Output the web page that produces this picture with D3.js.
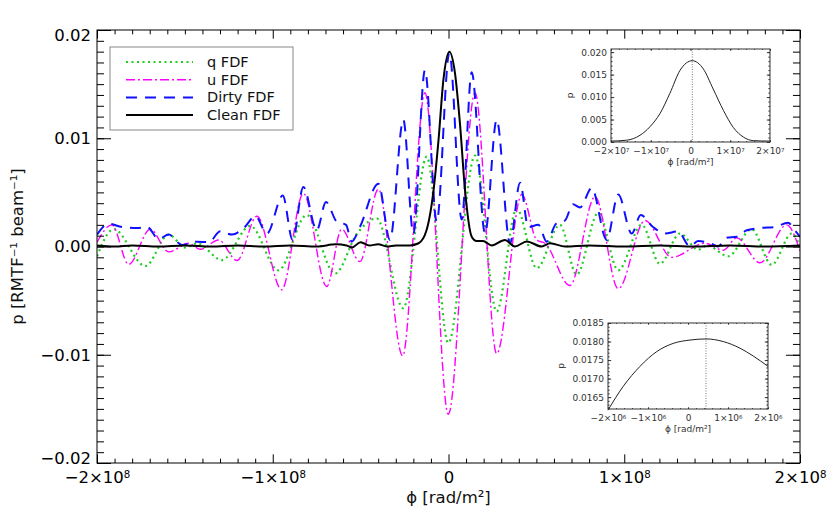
<!DOCTYPE html>
<html>
<head>
<meta charset="utf-8">
<script src="https://cdn.jsdelivr.net/npm/d3@7"></script>
<style>
  body { margin: 0; background: #fff; }
  text { font-family: 'DejaVu Sans', sans-serif; fill: #111; }
</style>
</head>
<body>
<div id="chart"></div>
<script>
// phi in units of 1e6 rad/m^2, p in RMTF^-1 beam^-1
const qFdf = [
  [-200, -0.0009], [-190.5, 0.0016], [-172.5, -0.0018], [-159.2, 0.0011], [-149.8, -0.0001],
  [-143.1, 0.0003], [-128.9, -0.00125], [-112.8, 0.0019], [-96.8, -0.0022], [-80.7, 0.0029],
  [-64.6, -0.0025], [-52, 0.0012], [-40.9, 0.0026], [-25.7, -0.0057], [-12.4, 0.0083],
  [-0.1, -0.0089], [15.1, 0.0084], [27.4, -0.006], [38.8, 0.0035], [50.2, -0.002],
  [63.4, 0.002], [72.9, -0.0026], [85.2, 0.0031], [96.6, -0.0022], [109.9, 0.002],
  [120.3, -0.0016], [131.7, 0.0012], [142.1, -0.0003], [147, 0.0001], [159.2, -0.0009],
  [172.5, 0.0016], [183.9, -0.0017], [195.3, 0.0012], [200, 0.0]
];

const uFdf = [
  [-200, 0.0004], [-191.5, 0.002], [-182, -0.00165], [-169.7, 0.0016], [-159.2, -0.0005],
  [-147.8, 0.0003], [-141.2, -0.00026], [-130.8, 0.0006], [-120.3, -0.0013], [-109, 0.0028],
  [-94.9, -0.004], [-82.6, 0.0049], [-69.3, -0.0037], [-60.8, 0.0016], [-50.4, -0.0014],
  [-39.9, 0.0053], [-26.1, -0.0101], [-13.4, 0.0142], [-0.1, -0.0155], [15.1, 0.0142],
  [27.4, -0.0099], [41.7, 0.0048], [50.2, 0.0006], [54.9, 0.0003], [69.1, -0.0036],
  [83.4, 0.0046], [96.6, -0.0039], [111.8, 0.0024], [127, -0.001], [145.9, 0.0003],
  [156.4, -0.00035], [164, 0.0008], [177.2, -0.0015], [192.4, 0.002], [200, -0.0004]
];

const dirtyFdf = [
  [-200, 0.0011], [-193.3, 0.0021], [-185.8, 0.0018], [-177.2, 0.0017], [-171.5, 0.0018],
  [-164.9, 0.0007], [-159.2, 0.0011], [-151.6, 0.00015], [-143.1, 0.00045], [-136.4, 0.0004],
  [-129.8, 0.0014], [-123.2, 0.0011], [-116.5, 0.0017], [-109.9, 0.0028], [-103.3, 0.0012],
  [-94.3, 0.0047], [-88.7, 0.0006], [-82.6, 0.0055], [-75, 0.0015], [-69.7, 0.0041],
  [-63.6, 0.0023], [-58.3, 0.002], [-55.1, 0.00045], [-50.4, 0.0018], [-39.9, 0.0058],
  [-33.3, 0.0006], [-25.7, 0.0117], [-20, 0.0012], [-13.4, 0.0163], [-6.7, 0.0023],
  [0.5, 0.0179], [7.5, 0.0025], [13.2, 0.0161], [20.8, 0.0012], [27.4, 0.0117],
  [35, 0.0003], [40.7, 0.0059], [45.4, 0.0018], [51.1, 0.002], [55.9, 0.00045],
  [61.2, 0.0021], [66.3, 0.0024], [70.8, 0.0039], [74.8, 0.0036], [81.5, 0.0054],
  [90, 0.0006], [96.6, 0.0048], [104.2, 0.0012], [109.4, 0.0029], [116.4, 0.0018],
  [123.2, 0.0012], [130.6, 0.0014], [137.4, 0.0], [142, 0.0005], [150.5, 0.0002],
  [153.3, 0.0], [158.3, 0.0008], [164, 0.0009], [169.7, 0.0015], [177.2, 0.0017],
  [185.8, 0.0018], [193.2, 0.0022], [197, 0.0015], [200, 0.0009]
];

const cleanFdf = [
  [-200, 0.0001], [-190, 0.0], [-180, 0.0001], [-165, 0.0], [-150, 0.0001], [-135, 0.0],
  [-120, 0.0001], [-105, 0.0], [-90, 0.0001], [-75, 0.0], [-64, 0.0002], [-58, 0.0001],
  [-55, -0.0001], [-50, 0.0004], [-45, 0.0001], [-40, 0.0002], [-35, 0.0], [-30, 0.0001],
  [-22, 0.0001], [-17, 0.0003], [-12.5, 0.0015], [-8.5, 0.0052], [-5.7, 0.0098],
  [-2.9, 0.0154], [0.5, 0.018], [3.7, 0.016], [6.5, 0.0114], [9.4, 0.0052], [13.2, 0.0009],
  [16, 0.0005], [19.6, 0.0005], [24.6, 0.0001], [32.1, 0.0006], [37.8, 0.0], [44.5, 0.00046],
  [53, 0.0], [57.8, 0.0003], [66.3, 0.0], [80, 0.0001], [100, 0.0], [120, 0.0001],
  [140, 0.0], [160, 0.0001], [180, 0.0], [200, 0.0001]
];

// insets: clean peak, phi in 1e6 rad/m^2
const insetPeak = [
  [-20, 0.0002], [-16.05, 0.0004], [-12.7, 0.0015], [-10.2, 0.0034], [-7.7, 0.0063],
  [-5.2, 0.0108], [-2.6, 0.016], [0.45, 0.0181], [3.2, 0.0163], [5.7, 0.0118],
  [8.3, 0.007], [10.8, 0.0032], [13.3, 0.0011], [15.8, 0.0003], [20, 0.0002]
];
const insetTop = [
  [-2.0, 0.01615], [-1.62, 0.01679], [-1.2, 0.01733], [-0.78, 0.01773], [-0.37, 0.01795],
  [0.05, 0.01804], [0.45, 0.01807], [0.88, 0.018], [1.3, 0.01782], [1.63, 0.01761], [2.0, 0.01733]
];
const peakPhi = 0.45;

const seriesNames = ['q FDF', 'u FDF', 'Dirty FDF', 'Clean FDF'];
const xTicks = [-2e8, -1e8, 0, 1e8, 2e8];
const yTicks = [-0.02, -0.01, 0, 0.01, 0.02];
const inset1XTicks = [-2e7, -1e7, 0, 1e7, 2e7];
const inset1YTicks = [0, 0.005, 0.01, 0.015, 0.02];
const inset2XTicks = [-2e6, -1e6, 0, 1e6, 2e6];
const inset2YTicks = [0.0165, 0.017, 0.0175, 0.018, 0.0185];

// Chart dimensions
const W = 830, H = 524;
const margin = { top: 30, bot: 61, left: 97, right: 30 };
const width = W - margin.left - margin.right;
const height = H - margin.top - margin.bot;

const styles = [
  { color: '#22cc22', width: 2.2, dash: '2,3.5' },
  { color: '#ff00ff', width: 1.4, dash: '9,3,2,3' },
  { color: '#1010ff', width: 2, dash: '11,8' },
  { color: '#000', width: 2, dash: null }
];

const svg = d3.select('#chart').append('svg')
  .attr('width', W)
  .attr('height', H);

// sci labels like -2x10^8
function sciLabel(sel) {
  sel.selectAll('text').each(function(d) {
    const t = d3.select(this);
    if (d === 0) { t.text('0'); return; }
    const e = Math.floor(Math.log10(Math.abs(d)) + 1e-9);
    const m = Math.round(d / Math.pow(10, e));
    t.text(null);
    t.append('tspan').text((m < 0 ? '\u2212' : '') + Math.abs(m) + '\u00d710');
    t.append('tspan').attr('dy', '-0.5em').attr('font-size', '0.62em').text(e);
  });
}

// IDL-style boxed axes, ticks pointing in on all four sides
function boxAxes(g, x, y, w, h, o) {
  const tx = 0.02 * h, ty = 0.02 * w;
  const bottom = g.append('g').attr('transform', `translate(0, ${h})`)
    .call(d3.axisBottom(x).tickValues(o.xTicks).tickSize(-tx).tickSizeOuter(0)
      .tickPadding(o.xPad).tickFormat(d => d));
  bottom.call(sciLabel);
  g.append('g').attr('transform', `translate(0, ${h})`)
    .call(d3.axisBottom(x).tickValues(o.xMinor).tickSize(-tx / 2).tickSizeOuter(0).tickFormat(''));
  g.append('g').call(d3.axisTop(x).tickValues(o.xTicks).tickSize(-tx).tickSizeOuter(0).tickFormat(''));
  g.append('g').call(d3.axisTop(x).tickValues(o.xMinor).tickSize(-tx / 2).tickSizeOuter(0).tickFormat(''));

  const left = g.append('g')
    .call(d3.axisLeft(y).tickValues(o.yTicks).tickSize(-ty).tickSizeOuter(0)
      .tickPadding(o.yPad).tickFormat(d3.format(o.yFmt)));
  // end labels sit a little inside the frame, as in the original
  if (o.endShift) {
    const n = o.yTicks.length;
    left.selectAll('.tick text').attr('y', (d, i) => i === 0 ? -o.endShift : (i === n - 1 ? o.endShift : 0));
  }
  g.append('g').call(d3.axisLeft(y).tickValues(o.yMinor).tickSize(-ty / 2).tickSizeOuter(0).tickFormat(''));
  g.append('g').attr('transform', `translate(${w}, 0)`)
    .call(d3.axisRight(y).tickValues(o.yTicks).tickSize(-ty).tickSizeOuter(0).tickFormat(''));
  g.append('g').attr('transform', `translate(${w}, 0)`)
    .call(d3.axisRight(y).tickValues(o.yMinor).tickSize(-ty / 2).tickSizeOuter(0).tickFormat(''));

  g.selectAll('.domain').remove();
  g.selectAll('.tick line').attr('stroke', o.color);
  g.selectAll('.tick text').attr('font-size', o.font).style('fill', o.color);
  g.append('rect')
    .attr('width', w).attr('height', h)
    .attr('fill', 'none').attr('stroke', o.color).attr('stroke-width', 1);
}

// Main plot
const xScale = d3.scaleLinear().domain([-2e8, 2e8]).range([0, width]);
const yScale = d3.scaleLinear().domain([-0.02, 0.02]).range([height, 0]);

const g = svg.append('g')
  .attr('transform', `translate(${margin.left}, ${margin.top})`);

svg.append('defs').append('clipPath')
  .attr('id', 'clip')
  .append('rect')
  .attr('width', width)
  .attr('height', height);

const line = d3.line()
  .x(d => xScale(d[0] * 1e6))
  .y(d => yScale(d[1]))
  .curve(d3.curveMonotoneX);

const plot = g.append('g').attr('clip-path', 'url(#clip)');
[qFdf, uFdf, dirtyFdf, cleanFdf].forEach((data, i) => {
  plot.append('path')
    .datum(data)
    .attr('d', line)
    .attr('fill', 'none')
    .attr('stroke', styles[i].color)
    .attr('stroke-width', styles[i].width)
    .attr('stroke-dasharray', styles[i].dash);
});

boxAxes(g, xScale, yScale, width, height, {
  xTicks: xTicks,
  xMinor: d3.range(-20, 21).map(v => v * 1e7).filter(v => v % 1e8 !== 0),
  yTicks: yTicks,
  yMinor: d3.range(-20, 21).map(v => v / 1000),
  yFmt: '.2f', xPad: 8, yPad: 6, font: 16.5, color: '#000', endShift: 5
});

g.append('text')
  .attr('x', width / 2)
  .attr('y', height + 40)
  .attr('text-anchor', 'middle')
  .attr('font-size', 16.5)
  .text('\u03d5 [rad/m\u00b2]');

svg.append('text')
  .attr('transform', `translate(23, ${margin.top + yScale(0)}) rotate(-90)`)
  .attr('text-anchor', 'middle')
  .attr('font-size', 16.5)
  .text('p [RMTF\u207b\u00b9 beam\u207b\u00b9]');

// Legend
const legend = g.append('g').attr('transform', 'translate(13, 17)');
legend.append('rect')
  .attr('width', 183).attr('height', 83)
  .attr('fill', '#fff').attr('stroke', '#888').attr('stroke-width', 1);
seriesNames.forEach((name, i) => {
  const yy = 15 + i * 17.7;
  legend.append('line')
    .attr('x1', 16).attr('x2', 83).attr('y1', yy).attr('y2', yy)
    .attr('stroke', styles[i].color)
    .attr('stroke-width', styles[i].width)
    .attr('stroke-dasharray', styles[i].dash);
  legend.append('text')
    .attr('x', 97).attr('y', yy + 5)
    .attr('font-size', 14.5)
    .text(name);
});

// Insets
function inset(x0, y0, w, h, data, xDom, yDom, o) {
  const ig = svg.append('g').attr('transform', `translate(${x0}, ${y0})`);
  const ix = d3.scaleLinear().domain(xDom).range([0, w]);
  const iy = d3.scaleLinear().domain(yDom).range([h, 0]);
  ig.append('rect').attr('width', w).attr('height', h).attr('fill', '#fff');
  ig.append('line')
    .attr('x1', ix(peakPhi * 1e6)).attr('x2', ix(peakPhi * 1e6))
    .attr('y1', 0).attr('y2', h)
    .attr('stroke', '#777').attr('stroke-width', 1).attr('stroke-dasharray', '1,1.5');
  ig.append('path')
    .datum(data)
    .attr('d', d3.line().x(d => ix(d[0] * 1e6)).y(d => iy(d[1])).curve(d3.curveMonotoneX))
    .attr('fill', 'none').attr('stroke', '#222').attr('stroke-width', 1);
  boxAxes(ig, ix, iy, w, h, {
    xTicks: o.xTicks, xMinor: o.xMinor, yTicks: o.yTicks, yMinor: o.yMinor,
    yFmt: o.yFmt, xPad: 6, yPad: 4, font: 9, color: '#333'
  });
  ig.append('text')
    .attr('x', w / 2).attr('y', h + 23)
    .attr('text-anchor', 'middle').attr('font-size', 9)
    .style('fill', '#333')
    .text('\u03d5 [rad/m\u00b2]');
  ig.append('text')
    .attr('transform', `translate(${o.pX}, ${h / 2}) rotate(-90)`)
    .attr('text-anchor', 'middle').attr('font-size', 9)
    .style('fill', '#333')
    .text('p');
}

inset(611, 49, 159, 93, insetPeak, [-2e7, 2e7], [0, 0.0207], {
  xTicks: inset1XTicks,
  xMinor: d3.range(-20, 21, 2).map(v => v * 1e6),
  yTicks: inset1YTicks,
  yMinor: d3.range(0, 21).map(v => v / 1000),
  yFmt: '.3f', pX: -38
});

inset(608, 323, 160, 86, insetTop, [-2e6, 2e6], [0.01618, 0.0185], {
  xTicks: inset2XTicks,
  xMinor: d3.range(-20, 21, 2).map(v => v * 1e5),
  yTicks: inset2YTicks,
  yMinor: d3.range(162, 186).map(v => v / 10000),
  yFmt: '.4f', pX: -44
});
</script>
</body>
</html>
